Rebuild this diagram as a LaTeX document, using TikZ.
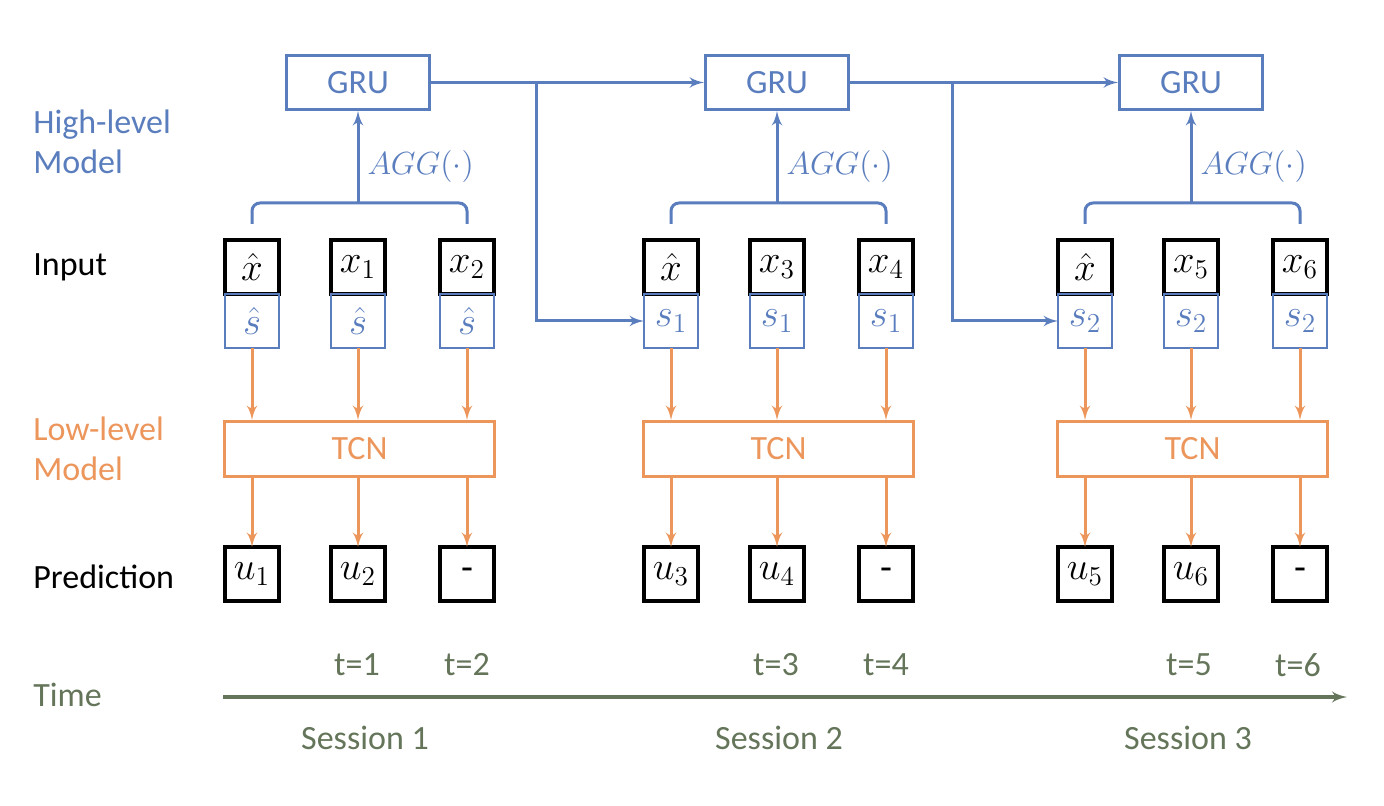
\RequirePackage{fix-cm}
\documentclass[tikz,border=0pt]{standalone}
\usepackage{fontspec}
\setmainfont{Carlito}
\usetikzlibrary{arrows, positioning}

\definecolor{hiblue}{RGB}{90,125,190}
\definecolor{loorange}{RGB}{236,150,92}
\definecolor{timegreen}{RGB}{100,117,90}

\newcommand{\mathsz}{\fontsize{19.5}{22}\selectfont}
\newcommand{\aggsz}{\fontsize{16}{19}\selectfont}

\begin{document}
\begin{tikzpicture}[
    x=0.5pt, y=-0.5pt,
    font=\fontsize{17}{20}\selectfont,
    gru/.style ={rectangle, draw=hiblue, line width=1.5pt, text=hiblue, minimum width=71.5pt, minimum height=27pt},
    tcn/.style ={rectangle, draw=loorange, line width=1.5pt, text=loorange, minimum width=135pt, minimum height=27.5pt},
    xbox/.style ={rectangle, draw=black, line width=1.7pt, font=\mathsz, inner sep=0pt, outer sep=0pt, minimum width=27pt, minimum height=27pt},
    sbox/.style ={xbox, draw=hiblue, text=hiblue, line width=1.4pt},
    ubox/.style ={xbox},
    hiline/.style ={draw=hiblue, line width=1.5pt, -latex'},
    loline/.style ={draw=loorange, line width=1.5pt, -latex'},
    brace/.style ={draw=hiblue, line width=1.5pt, rounded corners=4pt},
    side/.style ={anchor=west, align=left, inner xsep=0pt},
    tlabel/.style ={text=timegreen},
]
\useasboundingbox (0,0) rectangle (1384,806);

% High-level nodes
\node [gru] (gru1) at (358,82.5) {GRU};
\node [gru] (gru2) at (777,82.5) {GRU};
\node [gru] (gru3) at (1191,82.5) {GRU};

% Input nodes
\node [xbox] (x1a) at (252,267) {$\hat{x}$};
\node [xbox] (x1b) at (358,267) {$x_1$};
\node [xbox] (x1c) at (467,267) {$x_2$};
\node [xbox] (x2a) at (671,267) {$\hat{x}$};
\node [xbox] (x2b) at (777,267) {$x_3$};
\node [xbox] (x2c) at (886,267) {$x_4$};
\node [xbox] (x3a) at (1085,267) {$\hat{x}$};
\node [xbox] (x3b) at (1191,267) {$x_5$};
\node [xbox] (x3c) at (1300,267) {$x_6$};

\node [sbox, below=0pt of x1a] (s1a) {$\hat{s}$};
\node [sbox, below=0pt of x1b] (s1b) {$\hat{s}$};
\node [sbox, below=0pt of x1c] (s1c) {$\hat{s}$};
\node [sbox, below=0pt of x2a] (s2a) {$s_1$};
\node [sbox, below=0pt of x2b] (s2b) {$s_1$};
\node [sbox, below=0pt of x2c] (s2c) {$s_1$};
\node [sbox, below=0pt of x3a] (s3a) {$s_2$};
\node [sbox, below=0pt of x3b] (s3b) {$s_2$};
\node [sbox, below=0pt of x3c] (s3c) {$s_2$};

% Low-level nodes
\node [tcn] (tcn1) at (359.5,449) {TCN};
\node [tcn] (tcn2) at (778.5,449) {TCN};
\node [tcn] (tcn3) at (1192.5,449) {TCN};

% Prediction nodes
\node [ubox] (u1a) at (252,574) {$u_1$};
\node [ubox] (u1b) at (358,574) {$u_2$};
\node [ubox] (u1c) at (467,574) {-};
\node [ubox] (u2a) at (671,574) {$u_3$};
\node [ubox] (u2b) at (777,574) {$u_4$};
\node [ubox] (u2c) at (886,574) {-};
\node [ubox] (u3a) at (1085,574) {$u_5$};
\node [ubox] (u3b) at (1191,574) {$u_6$};
\node [ubox] (u3c) at (1300,574) {-};

% Row labels
\node [side, text=hiblue] (hilabel) at (33,142) {High-level\\Model};
\node [side] (inlabel) at (33,267) {Input};
\node [side, text=loorange] (lolabel) at (33,449) {Low-level\\Model};
\node [side] (predlabel) at (33,577) {Prediction};
\node [side, text=timegreen] (timelabel) at (33,695) {Time};

% Time axis
\coordinate (tstart) at (223,697);
\coordinate (tend) at (1347,697);
\node [tlabel] (t1) at (357,665) {t=1};
\node [tlabel] (t2) at (467,665) {t=2};
\node [tlabel] (t3) at (776,665) {t=3};
\node [tlabel] (t4) at (886,665) {t=4};
\node [tlabel] (t5) at (1189,665) {t=5};
\node [tlabel] (t6) at (1298,665) {t=6};
\node [tlabel] (sess1) at (365,738) {Session 1};
\node [tlabel] (sess2) at (779,738) {Session 2};
\node [tlabel] (sess3) at (1188,738) {Session 3};
\draw [timegreen, line width=1.6pt, -latex'] (tstart) -- (tend);

% Aggregation
\coordinate (agg1) at (358,203);
\coordinate (agg2) at (777,203);
\coordinate (agg3) at (1191,203);
\draw [brace] ([yshift=8pt]x1a.north) |- (agg1) -| ([yshift=8pt]x1c.north);
\draw [brace] ([yshift=8pt]x2a.north) |- (agg2) -| ([yshift=8pt]x2c.north);
\draw [brace] ([yshift=8pt]x3a.north) |- (agg3) -| ([yshift=8pt]x3c.north);
\path [hiline] (agg1) -- node [pos=0.4, right, inner xsep=4pt, text=hiblue, font=\aggsz] {$AGG(\cdot)$} (gru1);
\path [hiline] (agg2) -- node [pos=0.4, right, inner xsep=4pt, text=hiblue, font=\aggsz] {$AGG(\cdot)$} (gru2);
\path [hiline] (agg3) -- node [pos=0.4, right, inner xsep=4pt, text=hiblue, font=\aggsz] {$AGG(\cdot)$} (gru3);

% Recurrent links
\coordinate (br1) at (536,82.5);
\coordinate (br2) at (952,82.5);
\path [hiline] (gru1) -- (gru2);
\path [hiline] (gru2) -- (gru3);
\path [hiline] (br1) |- (s2a);
\path [hiline] (br2) |- (s3a);

% Lines into TCN
\path [loline] (s1a) -- (s1a |- tcn1.north);
\path [loline] (s1b) -- (s1b |- tcn1.north);
\path [loline] (s1c) -- (s1c |- tcn1.north);
\path [loline] (s2a) -- (s2a |- tcn2.north);
\path [loline] (s2b) -- (s2b |- tcn2.north);
\path [loline] (s2c) -- (s2c |- tcn2.north);
\path [loline] (s3a) -- (s3a |- tcn3.north);
\path [loline] (s3b) -- (s3b |- tcn3.north);
\path [loline] (s3c) -- (s3c |- tcn3.north);

% Lines out of TCN
\path [loline] (u1a |- tcn1.south) -- (u1a);
\path [loline] (u1b |- tcn1.south) -- (u1b);
\path [loline] (u1c |- tcn1.south) -- (u1c);
\path [loline] (u2a |- tcn2.south) -- (u2a);
\path [loline] (u2b |- tcn2.south) -- (u2b);
\path [loline] (u2c |- tcn2.south) -- (u2c);
\path [loline] (u3a |- tcn3.south) -- (u3a);
\path [loline] (u3b |- tcn3.south) -- (u3b);
\path [loline] (u3c |- tcn3.south) -- (u3c);

\end{tikzpicture}
\end{document}
